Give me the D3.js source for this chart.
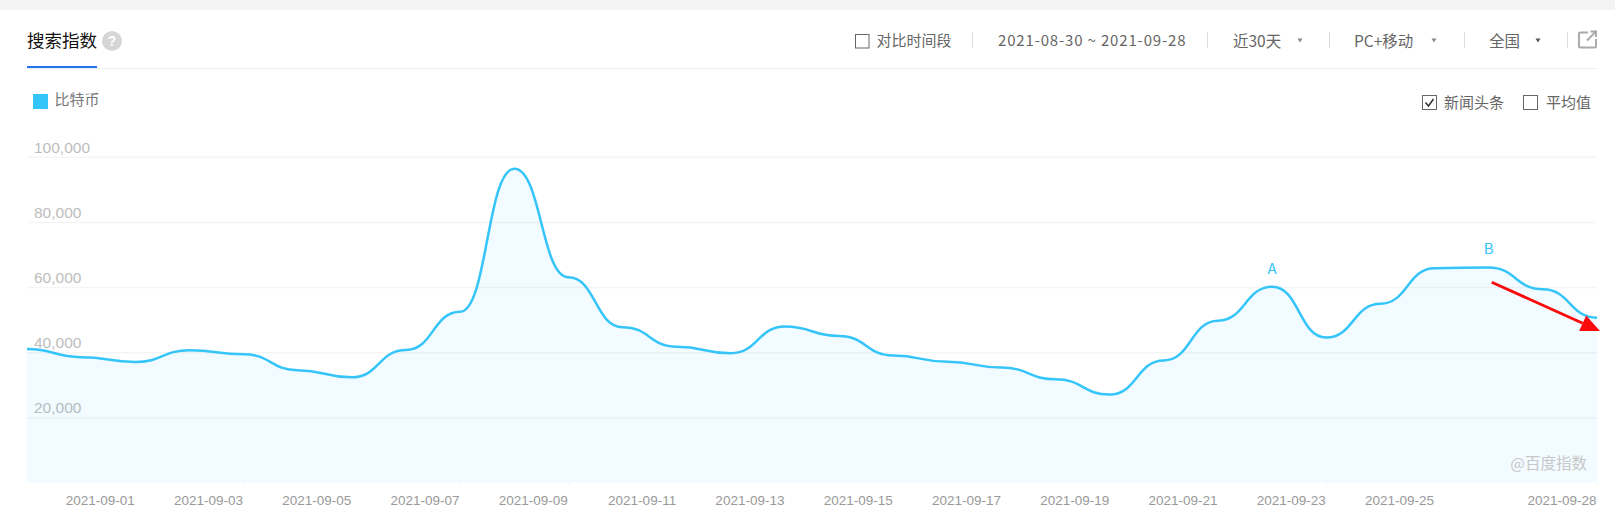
<!DOCTYPE html>
<html><head><meta charset="utf-8">
<script src="https://cdn.jsdelivr.net/npm/d3@7"></script>
<style>
html,body{margin:0;padding:0;background:#fff;overflow:hidden}
svg{display:block}
text{font-family:"Noto Sans CJK SC","Liberation Sans",sans-serif}
.num{font-family:"Liberation Sans","Noto Sans CJK SC",sans-serif}
</style></head><body>
<svg id="c" width="1615" height="515"></svg>
<script>
const dates = ["2021-08-30","2021-08-31","2021-09-01","2021-09-02","2021-09-03","2021-09-04","2021-09-05","2021-09-06","2021-09-07","2021-09-08","2021-09-09","2021-09-10","2021-09-11","2021-09-12","2021-09-13","2021-09-14","2021-09-15","2021-09-16","2021-09-17","2021-09-18","2021-09-19","2021-09-20","2021-09-21","2021-09-22","2021-09-23","2021-09-24","2021-09-25","2021-09-26","2021-09-27","2021-09-28"];
const btc = [41000,38500,37000,40600,39400,34500,32300,40700,52400,96300,63000,47700,41700,39700,47900,45000,39000,37100,35300,31700,27000,37500,49700,60100,44500,54900,65800,66000,59300,50600];
const yTicks = [20000,40000,60000,80000,100000];
const xTicks = ["2021-09-01","2021-09-03","2021-09-05","2021-09-07","2021-09-09","2021-09-11","2021-09-13","2021-09-15","2021-09-17","2021-09-19","2021-09-21","2021-09-23","2021-09-25","2021-09-28"];
const seriesName = "比特币";
const pointLabels = [["A","2021-09-22",66000],["B","2021-09-26",72000]];

const svg = d3.select("#c");
const parse = d3.timeParse("%Y-%m-%d"), fmt = d3.timeFormat("%Y-%m-%d");
const L=27,R=1597;
const x = d3.scaleTime().domain([parse(dates[0]),parse(dates[dates.length-1])]).range([L,R]);
const y = d3.scaleLinear().domain([0,100000]).range([482.6,156.7]);
const data = dates.map((d,i)=>({d:parse(d),v:btc[i]}));
const BLUE="#35c5fa";

function txt(t,tx,ty,size,col,anchor,cls){
  return svg.append("text").attr("x",tx).attr("y",ty).attr("font-size",size).attr("fill",col)
   .attr("text-anchor",anchor||"start").attr("dominant-baseline","central").attr("class",cls||null).text(t);
}
function box(bx,by,s){ svg.append("rect").attr("x",bx+.5).attr("y",by+.5).attr("width",s).attr("height",s).attr("fill","#fff").attr("stroke","#666").attr("stroke-width",1);}

// page chrome
svg.append("rect").attr("width",1615).attr("height",10).attr("fill","#f4f4f4");
svg.append("rect").attr("x",L).attr("y",68).attr("width",R-L).attr("height",1).attr("fill","#ececec");
svg.append("rect").attr("x",L).attr("y",66).attr("width",70).attr("height",2).attr("fill","#2575ee");
txt("搜索指数",27,39.5,17.5,"#111");
svg.append("circle").attr("cx",112).attr("cy",41).attr("r",10).attr("fill","#d6d6d6");
txt("?",112,41,14,"#fff","middle","num").attr("font-weight","bold");

// toolbar
box(855,34,13.5);
txt("对比时间段",876.5,39.5,15,"#666");
[972,1207,1329,1464,1567].forEach(s=>svg.append("rect").attr("x",s).attr("y",32).attr("width",1).attr("height",16).attr("fill","#dcdcdc"));
txt("2021-08-30 ~ 2021-09-28",998,39.5,15,"#666").attr("textLength",187.5).attr("lengthAdjust","spacing");
txt("近30天",1233,39.5,15.5,"#666");
txt("PC+移动",1354,39.5,15.5,"#666");
txt("全国",1489,39.5,15.5,"#666");
[1300,1434,1538].forEach((s,i)=>svg.append("path").attr("d",`M${s-2.5},38.5h5l-2.5,4z`).attr("fill",i==2?"#555":"#888"));
svg.append("path").attr("d","M1588,32.5h-7.5a1.5,1.5 0 0 0 -1.5,1.5v12a1.5,1.5 0 0 0 1.5,1.5h14a1.5,1.5 0 0 0 1.5,-1.5v-7M1587,40.5L1596,31.5M1590.5,31.5h5.5v5.5")
  .attr("fill","none").attr("stroke","#aaa").attr("stroke-width",2);

// legend + options
svg.append("rect").attr("x",33).attr("y",94).attr("width",15).attr("height",15).attr("fill",BLUE);
txt(seriesName,54.5,98.5,15,"#777");
box(1422,95,14);
svg.append("path").attr("d","M1425.5,102.5l3,3.5l5,-7").attr("fill","none").attr("stroke","#333").attr("stroke-width",1.5);
txt("新闻头条",1444,101.5,15,"#666");
box(1523,95,14);
txt("平均值",1546,101.5,15,"#666");

// y axis + grid
const gy = svg.append("g").attr("transform",`translate(${L},0)`)
  .call(d3.axisLeft(y).tickValues(yTicks).tickFormat(d3.format(",")).tickSize(-(R-L)));
gy.select(".domain").remove();
gy.selectAll("line").attr("stroke","#f4f5f5").attr("stroke-width",1.5);
gy.selectAll("text").attr("class","num").attr("x",7).attr("dy",null).attr("y",-10)
  .attr("dominant-baseline","central").attr("text-anchor","start").attr("font-size",15.5).attr("fill","#bdbdbd");

// x axis
const gx = svg.append("g").attr("transform",`translate(0,${y(0)})`)
  .call(d3.axisBottom(x).tickValues(xTicks.map(parse)).tickFormat(fmt).tickSizeInner(3).tickSizeOuter(0).tickPadding(6));
gx.select(".domain").remove();
gx.selectAll("line").attr("stroke","#f5f5f5");
gx.selectAll("text").attr("class","num").attr("text-anchor","end").attr("font-size",13.5).attr("fill","#999").attr("x",-1).attr("y",12.5).attr("dy","0.71em");

// area + line
const curve = d3.curveBumpX;
svg.append("path").datum(data).attr("fill","rgba(53,197,250,0.068)")
  .attr("d",d3.area().x(d=>x(d.d)).y0(y(0)).y1(d=>y(d.v)).curve(curve));
svg.append("path").datum(data).attr("fill","none").attr("stroke",BLUE).attr("stroke-width",2.5)
  .attr("d",d3.line().x(d=>x(d.d)).y(d=>y(d.v)).curve(curve));

// point letters
pointLabels.forEach(p=>txt(p[0],x(parse(p[1])),y(p[2]),15,BLUE,"middle"));

// watermark
txt("@百度指数",1587,462,15.5,"#c8c8c8","end");

// red arrow annotation
const arrowFrom=[x(parse("2021-09-26"))+3, y(61500)], arrowTo=[1600,y(46500)];
const ang=Math.atan2(arrowTo[1]-arrowFrom[1],arrowTo[0]-arrowFrom[0]);
const hl=19,hw=8.5;
const bx=arrowTo[0]-hl*Math.cos(ang),by=arrowTo[1]-hl*Math.sin(ang);
svg.append("line").attr("x1",arrowFrom[0]).attr("y1",arrowFrom[1]).attr("x2",bx).attr("y2",by).attr("stroke","#fa0a0a").attr("stroke-width",2.8);
svg.append("polygon").attr("fill","#fa0a0a").attr("points",[arrowTo,[bx-hw*Math.sin(ang),by+hw*Math.cos(ang)],[bx+hw*Math.sin(ang),by-hw*Math.cos(ang)]].map(p=>p.join(",")).join(" "));
</script>
</body></html>
